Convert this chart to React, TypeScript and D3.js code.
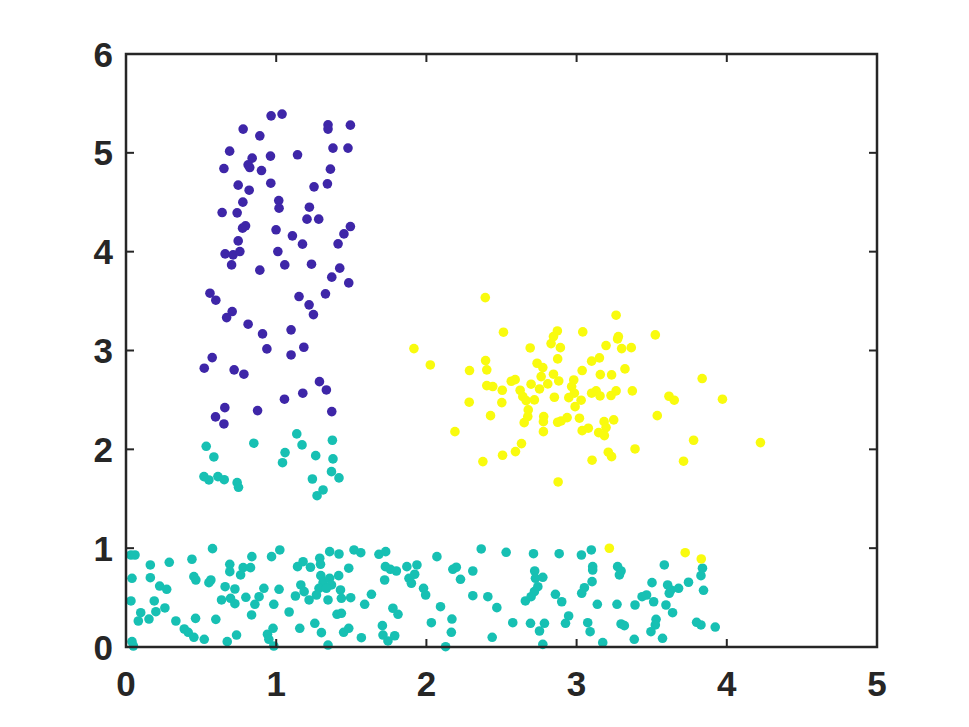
import React from "react";
import * as d3 from "d3";

const xTicks = [0, 1, 2, 3, 4, 5];
const yTicks = [0, 1, 2, 3, 4, 5, 6];

// cluster 1 (purple)
const purpleX = [0.966,1.039,0.780,0.891,1.345,1.345,1.494,0.690,0.840,0.962,1.142,1.378,1.478,0.652,0.813,0.824,0.902,1.361,0.747,0.964,0.820,1.252,1.341,0.778,1.017,1.019,0.640,0.740,1.221,1.205,1.283,0.776,0.796,0.999,1.108,1.175,1.494,1.451,1.412,0.747,0.660,0.713,0.758,1.011,0.703,0.891,1.057,1.235,1.423,1.370,1.483,0.559,0.598,1.152,1.219,1.248,1.328,0.707,0.670,0.813,0.909,1.099,0.938,1.099,1.184,0.574,0.521,0.720,0.785,1.288,1.334,1.055,1.177,0.658,0.596,0.652,0.876,1.370];
const purpleY = [5.374,5.392,5.240,5.172,5.283,5.240,5.280,5.017,4.946,4.967,4.980,5.048,5.048,4.841,4.879,4.851,4.821,4.835,4.673,4.693,4.622,4.656,4.686,4.501,4.517,4.440,4.396,4.393,4.450,4.329,4.329,4.238,4.261,4.221,4.160,4.076,4.254,4.180,4.079,4.109,3.978,3.968,4.001,4.001,3.866,3.813,3.866,3.873,3.833,3.742,3.684,3.580,3.509,3.546,3.462,3.363,3.573,3.394,3.333,3.266,3.168,3.209,3.016,2.955,3.033,2.928,2.821,2.804,2.760,2.685,2.601,2.507,2.568,2.422,2.328,2.257,2.392,2.382];

// cluster 2 (teal)
const tealX = [0.534,0.585,0.851,1.137,1.172,1.059,1.042,1.263,1.374,1.378,1.368,1.418,1.241,1.312,1.272,0.519,0.552,0.612,0.654,0.740,0.749,
0.033,0.060,0.576,0.162,0.288,0.439,0.040,0.162,0.224,0.271,0.452,0.465,0.552,0.565,0.691,0.691,0.780,0.829,0.838,0.763,0.660,0.725,0.969,1.024,0.918,1.019,0.033,0.188,0.259,0.199,0.098,0.082,0.153,0.332,0.463,0.598,0.636,0.696,0.725,0.798,0.858,0.886,0.836,0.984,1.086,0.388,0.414,0.452,0.521,0.674,0.736,0.942,0.951,0.979,0.984,0.040,0.049,1.157,1.257,1.301,1.345,1.142,1.179,1.228,1.290,1.295,1.164,1.186,1.128,1.297,1.312,1.285,1.268,1.219,1.345,1.356,
1.418,1.518,1.563,1.684,1.729,1.483,1.416,1.356,1.368,1.334,1.428,1.434,1.496,1.634,1.589,1.405,1.434,1.449,1.483,1.567,1.707,1.711,1.744,1.789,1.777,1.811,1.722,1.727,1.760,1.800,1.870,1.937,1.922,1.884,1.900,1.981,1.995,2.070,2.094,2.033,2.170,2.166,2.128,2.176,2.199,2.227,2.309,2.365,2.531,2.309,2.409,2.469,2.575,2.438,2.659,2.693,2.713,
2.884,3.032,3.098,2.721,2.726,2.775,2.742,2.719,2.697,2.859,2.901,2.947,2.926,2.786,2.753,2.775,3.107,3.107,3.103,3.052,3.034,3.138,3.074,3.090,3.174,3.273,3.296,3.285,3.269,3.296,3.318,3.384,3.389,3.436,3.466,3.513,3.502,3.584,3.606,3.617,3.628,3.679,3.745,3.595,3.639,3.529,3.524,3.495,3.572,3.799,3.828,3.923,3.838,3.828,3.845];
const tealY = [2.031,1.923,2.062,2.156,2.045,1.967,1.865,1.936,2.092,1.903,1.774,1.711,1.700,1.589,1.531,1.724,1.690,1.724,1.693,1.663,1.616,
0.931,0.931,0.995,0.830,0.857,0.888,0.695,0.701,0.617,0.584,0.712,0.678,0.651,0.678,0.837,0.762,0.803,0.803,0.914,0.729,0.610,0.587,0.914,0.982,0.594,0.584,0.466,0.466,0.395,0.357,0.347,0.263,0.283,0.263,0.290,0.280,0.476,0.493,0.438,0.503,0.432,0.509,0.324,0.432,0.354,0.182,0.149,0.098,0.078,0.054,0.121,0.129,0.078,0.189,0.010,0.054,0.010,0.189,0.240,0.145,0.020,0.813,0.863,0.807,0.898,0.837,0.628,0.560,0.516,0.722,0.651,0.594,0.526,0.476,0.476,0.965,
0.941,0.982,0.954,0.938,0.965,0.797,0.722,0.695,0.628,0.594,0.577,0.493,0.499,0.533,0.432,0.331,0.341,0.149,0.189,0.094,0.216,0.121,0.061,0.114,0.392,0.331,0.678,0.813,0.786,0.769,0.813,0.830,0.736,0.695,0.645,0.594,0.526,0.914,0.408,0.246,0.283,0.149,0.003,0.786,0.807,0.685,0.769,0.992,0.958,0.519,0.509,0.398,0.246,0.098,0.466,0.240,0.944,
0.944,0.931,0.982,0.769,0.695,0.705,0.610,0.560,0.509,0.533,0.458,0.314,0.240,0.240,0.162,0.027,0.813,0.779,0.661,0.600,0.544,0.432,0.246,0.155,0.044,0.813,0.769,0.729,0.432,0.233,0.216,0.078,0.425,0.509,0.526,0.458,0.651,0.830,0.628,0.544,0.577,0.594,0.655,0.425,0.347,0.280,0.223,0.155,0.088,0.250,0.223,0.202,0.797,0.722,0.574];

// cluster 3 (yellow)
const yellowX = [2.392,2.513,1.917,2.026,2.287,2.394,2.402,2.691,2.872,2.846,2.830,2.892,3.041,2.874,2.737,2.775,2.764,2.846,2.881,3.037,3.100,3.152,2.565,2.591,2.402,2.442,2.505,2.697,2.753,2.808,2.624,2.642,2.664,2.719,2.981,2.967,2.948,2.990,3.030,2.985,2.852,3.100,3.130,2.285,2.502,2.678,2.675,2.651,2.781,2.779,2.779,2.427,2.874,2.897,2.937,3.019,3.037,3.078,2.190,2.376,2.507,2.593,2.633,3.103,2.877,3.263,3.524,3.278,3.273,3.196,3.300,3.364,3.158,3.233,3.322,3.156,3.229,3.263,3.371,3.836,3.615,3.650,3.971,3.537,3.183,3.247,3.196,3.147,3.185,3.389,3.211,3.233,3.779,4.224,3.712,3.218,3.723,3.830];
const yellowY = [3.535,3.185,3.019,2.854,2.797,2.898,2.804,3.026,3.198,3.141,3.070,3.029,3.188,2.915,2.871,2.827,2.736,2.760,2.692,2.797,2.892,2.925,2.689,2.705,2.645,2.635,2.598,2.659,2.611,2.662,2.598,2.533,2.493,2.500,2.702,2.635,2.523,2.432,2.497,2.568,2.527,2.568,2.591,2.477,2.473,2.399,2.331,2.270,2.331,2.280,2.179,2.341,2.274,2.287,2.321,2.315,2.189,2.214,2.179,1.876,1.940,1.977,2.058,1.890,1.670,3.357,3.158,3.141,3.117,3.050,3.019,3.029,2.756,2.753,2.814,2.540,2.544,2.591,2.591,2.716,2.537,2.497,2.507,2.341,2.280,2.298,2.220,2.169,2.139,2.004,1.971,1.926,2.092,2.068,1.880,0.999,0.954,0.891];

const series = [
  { xs: tealX, ys: tealY, color: "#17c0b3" },
  { xs: purpleX, ys: purpleY, color: "#3e26a8" },
  { xs: yellowX, ys: yellowY, color: "#f9fb0e" },
];

export default function App() {
  const W = 969, H = 727;
  const left = 126, right = 877, top = 54, bottom = 647;
  const x = d3.scaleLinear().domain([0, 5]).range([left, right]);
  const y = d3.scaleLinear().domain([0, 6]).range([bottom, top]);
  const axisColor = "#262626";
  const tl = 8;
  const font = "'Liberation Sans', Arial, Helvetica, sans-serif";
  return (
    <svg width={W} height={H} style={{ position: "absolute", left: 0, top: 0, background: "#fff" }}>
      <rect x={0} y={0} width={W} height={H} fill="#fff" />
      {series.map((s, si) =>
        s.xs.map((v, i) => (
          <circle key={si + "-" + i} cx={x(v)} cy={y(s.ys[i])} r={4.8} fill={s.color} />
        ))
      )}
      <rect x={left} y={top} width={right - left} height={bottom - top} fill="none" stroke={axisColor} strokeWidth={2.5} />
      {xTicks.map((t) => (
        <g key={"xt" + t}>
          <line x1={x(t)} x2={x(t)} y1={bottom} y2={bottom - tl} stroke={axisColor} strokeWidth={2} />
          <line x1={x(t)} x2={x(t)} y1={top} y2={top + tl} stroke={axisColor} strokeWidth={2} />
          <text x={x(t)} y={696} textAnchor="middle" fontFamily={font} fontWeight="bold" fontSize={35} fill={axisColor}>{t}</text>
        </g>
      ))}
      {yTicks.map((t) => (
        <g key={"yt" + t}>
          <line x1={left} x2={left + tl} y1={y(t)} y2={y(t)} stroke={axisColor} strokeWidth={2} />
          <line x1={right} x2={right - tl} y1={y(t)} y2={y(t)} stroke={axisColor} strokeWidth={2} />
          <text x={113} y={y(t) + 12.5} textAnchor="end" fontFamily={font} fontWeight="bold" fontSize={35} fill={axisColor}>{t}</text>
        </g>
      ))}
    </svg>
  );
}
